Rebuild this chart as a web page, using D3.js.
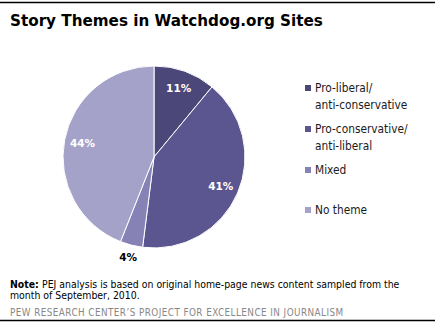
<!DOCTYPE html>
<html><head><meta charset="utf-8">
<script src="https://cdn.jsdelivr.net/npm/d3@7"></script>
<style>body{margin:0;background:#fff}svg{display:block}</style>
</head><body>
<script>
const categories = ["Pro-liberal/anti-conservative", "Pro-conservative/anti-liberal", "Mixed", "No theme"];
const legendLines = [["Pro-liberal/", "anti-conservative"], ["Pro-conservative/", "anti-liberal"], ["Mixed"], ["No theme"]];
const values = [11, 41, 4, 44];
const colors = ["#4b4779", "#5b5690", "#8682b5", "#a4a2c9"];
const title = "Story Themes in Watchdog.org Sites";
const noteLines = ["PEJ analysis is based on original home-page news content sampled from the", "month of September, 2010."];
const source = "PEW RESEARCH CENTER\u2019S PROJECT FOR EXCELLENCE IN JOURNALISM";

const W = 435, H = 323;
const svg = d3.select("body").append("svg").attr("width", W).attr("height", H);
svg.append("rect").attr("width", W).attr("height", H).attr("fill", "#fff");
svg.append("line").attr("x1", 0).attr("x2", W).attr("y1", 2.5).attr("y2", 2.5).attr("stroke", "#000").attr("stroke-width", 1.5);
svg.append("line").attr("x1", 0).attr("x2", W).attr("y1", 320.5).attr("y2", 320.5).attr("stroke", "#000").attr("stroke-width", 1.5);

svg.append("text").attr("x", 10).attr("y", 26).text(title)
  .attr("font-family", "DejaVu Sans").attr("font-weight", "bold").attr("font-size", 15.2).attr("fill", "#000");

const cx = 154, cy = 157, r = 91;
const pie = d3.pie().sort(null).value(d => d)(values);
const arc = d3.arc().innerRadius(0).outerRadius(r);
const g = svg.append("g").attr("transform", `translate(${cx},${cy})`);
g.selectAll("path").data(pie).join("path").attr("d", arc)
  .attr("fill", (d, i) => colors[i]).attr("stroke", "#fff").attr("stroke-width", 1);

const labelPos = [[0.80, "#fff"], [0.80, "#fff"], [1.14, "#000"], [0.80, "#fff"]];
g.selectAll("text.lbl").data(pie).join("text").attr("class", "lbl")
  .attr("transform", (d, i) => {
    const a = (d.startAngle + d.endAngle) / 2;
    const rr = r * labelPos[i][0];
    return `translate(${Math.sin(a) * rr},${-Math.cos(a) * rr})`;
  })
  .attr("text-anchor", "middle").attr("dy", "0.35em")
  .attr("font-family", "DejaVu Sans").attr("font-weight", "bold").attr("font-size", 10.5)
  .attr("fill", (d, i) => labelPos[i][1]).text(d => d.data + "%");

const legendY = [88, 129, 170, 210];
const lg = svg.append("g");
legendLines.forEach((lines, i) => {
  lg.append("rect").attr("x", 305).attr("y", legendY[i] - 3).attr("width", 6).attr("height", 6).attr("fill", colors[i]);
  lines.forEach((t, j) => {
    lg.append("text").attr("x", 315).attr("y", legendY[i] + j * 17).attr("dy", "0.35em")
      .attr("font-family", "DejaVu Sans Condensed, DejaVu Sans").attr("font-size", 11.8).attr("fill", "#1a1a1a").text(t);
  });
});

const note = svg.append("text").attr("x", 10).attr("y", 288)
  .attr("font-family", "DejaVu Sans Condensed, DejaVu Sans").attr("font-size", 10.4).attr("fill", "#000");
note.append("tspan").attr("font-weight", "bold").text("Note: ");
note.append("tspan").text(noteLines[0]);
svg.append("text").attr("x", 10).attr("y", 298.5)
  .attr("font-family", "DejaVu Sans Condensed, DejaVu Sans").attr("font-size", 10.4).attr("fill", "#000").text(noteLines[1]);
svg.append("text").attr("x", 10).attr("y", 315.5)
  .attr("font-family", "DejaVu Sans Condensed, DejaVu Sans").attr("font-size", 9.8).attr("fill", "#888").attr("letter-spacing", 0.45).text(source);
</script>
</body></html>
